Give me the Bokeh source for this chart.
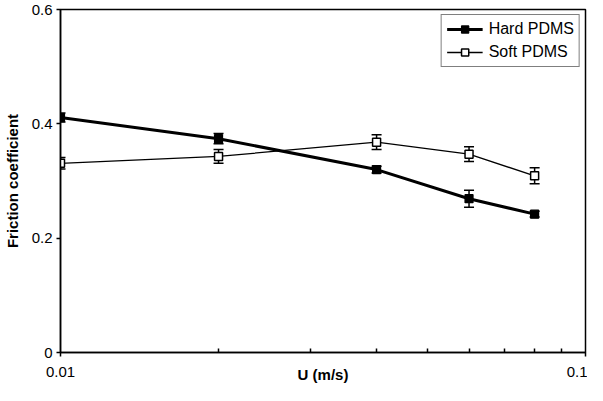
from bokeh.plotting import figure
from bokeh.models import (ColumnDataSource, Whisker, TeeHead, FixedTicker,
                          Legend, LegendItem, BasicTickFormatter)
from bokeh.embed import file_html
from bokeh.resources import INLINE

# ---- data ----
speed = [0.01, 0.02, 0.04, 0.06, 0.08]
hard_mu = [0.411, 0.374, 0.320, 0.269, 0.242]
hard_err = [0.008, 0.009, 0.006, 0.015, 0.005]
soft_mu = [0.331, 0.343, 0.368, 0.347, 0.309]
soft_err = [0.010, 0.012, 0.013, 0.013, 0.014]

x_ticks = [0.01, 0.1]
x_tick_labels = ["0.01", "0.1"]
x_minor = [0.02, 0.03, 0.04, 0.05, 0.06, 0.07, 0.08, 0.09]
y_ticks = [0, 0.2, 0.4, 0.6]
y_tick_labels = ["0", "0.2", "0.4", "0.6"]
x_title = "U (m/s)"
y_title = "Friction coefficient"

FONT = "Liberation Sans"

p = figure(width=587, height=385, x_axis_type="log",
           x_range=(x_ticks[0], x_ticks[-1]), y_range=(y_ticks[0], y_ticks[-1]),
           output_backend="svg", toolbar_location=None,
           min_border_left=50, min_border_right=2,
           min_border_top=9, min_border_bottom=0)

p.grid.visible = False
p.outline_line_color = "black"
p.outline_line_width = 1.5
p.background_fill_color = "white"
p.border_fill_color = "white"

# axes
p.xaxis.ticker = FixedTicker(ticks=x_ticks, minor_ticks=x_minor)
p.xaxis.formatter = BasicTickFormatter()
p.xaxis.major_label_overrides = {t: l for t, l in zip(x_ticks, x_tick_labels)}
p.yaxis.ticker = FixedTicker(ticks=y_ticks)
p.yaxis.major_label_overrides = {t: l for t, l in zip(y_ticks, y_tick_labels)}

for ax in (p.xaxis[0], p.yaxis[0]):
    ax.axis_line_color = "black"
    ax.axis_line_width = 1.5
    ax.major_tick_line_color = "black"
    ax.major_tick_line_width = 1.5
    ax.minor_tick_line_color = "black"
    ax.minor_tick_line_width = 1.5
    ax.major_label_text_font = FONT
    ax.major_label_text_font_size = "15px"
    ax.major_label_text_color = "black"
    ax.major_label_text_line_height = 0.9
    ax.axis_label_text_font = FONT
    ax.axis_label_text_font_size = "15px"
    ax.axis_label_text_font_style = "bold"
    ax.axis_label_text_color = "black"
    ax.axis_label_text_line_height = 0.9

p.xaxis.major_tick_in = 0
p.xaxis.major_tick_out = 4
p.xaxis.minor_tick_in = 4
p.xaxis.minor_tick_out = 0
p.xaxis.major_label_standoff = 10
p.xaxis.axis_label = x_title
p.xaxis.axis_label_standoff = -14

p.yaxis.major_tick_in = 0
p.yaxis.major_tick_out = 4
p.yaxis.minor_tick_in = 0
p.yaxis.minor_tick_out = 0
p.yaxis.major_label_standoff = 4
p.yaxis.axis_label = y_title
p.yaxis.axis_label_standoff = 8

# sources
hard_src = ColumnDataSource(dict(
    x=speed, y=hard_mu,
    lo=[m - e for m, e in zip(hard_mu, hard_err)],
    hi=[m + e for m, e in zip(hard_mu, hard_err)]))
soft_src = ColumnDataSource(dict(
    x=speed, y=soft_mu,
    lo=[m - e for m, e in zip(soft_mu, soft_err)],
    hi=[m + e for m, e in zip(soft_mu, soft_err)]))

# lines
hard_line = p.line("x", "y", source=hard_src, line_color="black", line_width=3)
soft_line = p.line("x", "y", source=soft_src, line_color="black", line_width=1.3)

# error bars
for src in (hard_src, soft_src):
    w = Whisker(source=src, base="x", lower="lo", upper="hi", dimension="height",
                line_color="black", line_width=1.5,
                upper_head=TeeHead(size=10, line_color="black", line_width=1.5),
                lower_head=TeeHead(size=10, line_color="black", line_width=1.5))
    p.add_layout(w)

# markers
hard_mk = p.scatter("x", "y", source=hard_src, marker="square", size=8,
                    fill_color="black", line_color="black", line_width=1.2)
soft_mk = p.scatter("x", "y", source=soft_src, marker="square", size=8,
                    fill_color="white", line_color="black", line_width=1.5)

legend = Legend(items=[
    LegendItem(label="Hard PDMS", renderers=[hard_line, hard_mk]),
    LegendItem(label="Soft PDMS", renderers=[soft_line, soft_mk]),
], location="top_right")
legend.label_text_font = FONT
legend.label_text_font_size = "16px"
legend.label_text_color = "black"
legend.border_line_color = "black"
legend.border_line_width = 1.5
legend.background_fill_color = "white"
legend.background_fill_alpha = 1
legend.glyph_width = 36
legend.glyph_height = 18
legend.label_height = 18
legend.label_standoff = 6
legend.padding = 5
legend.spacing = 5
legend.margin = 5
p.add_layout(legend)

open("out.html", "w").write(file_html(p, INLINE))
